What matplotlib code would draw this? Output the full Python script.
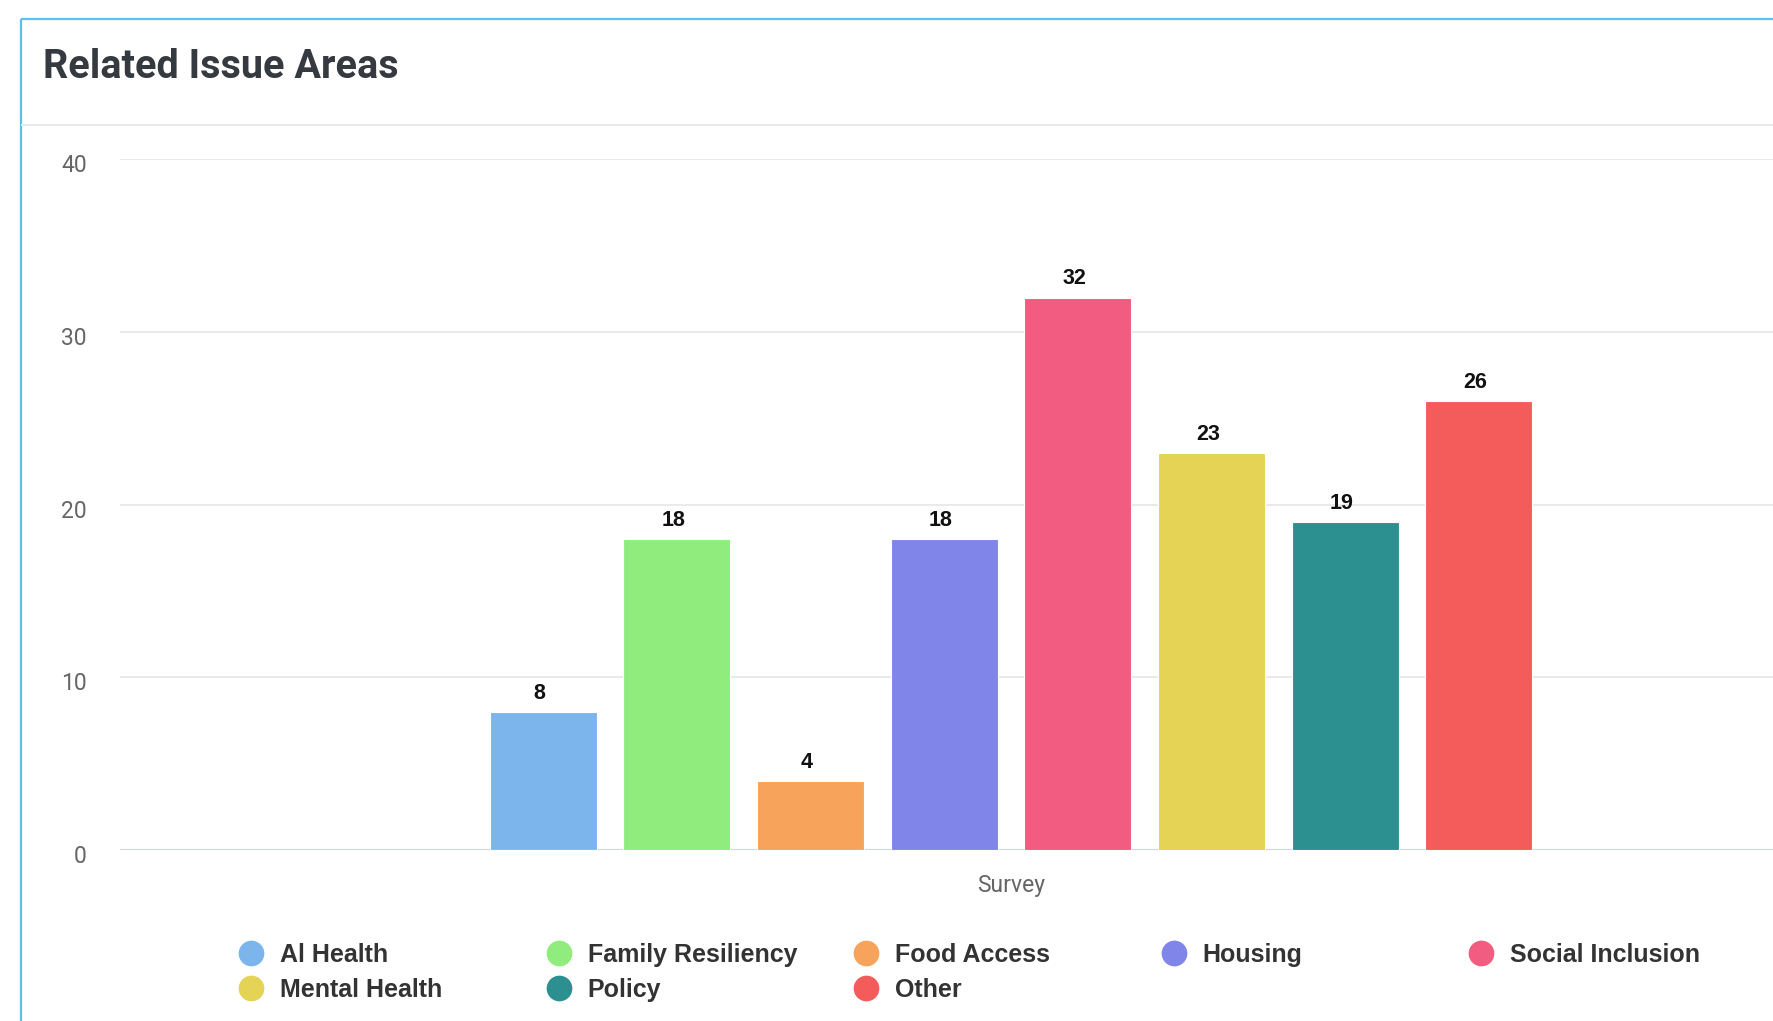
import numpy as np
import matplotlib
matplotlib.use('Agg')
import matplotlib.pyplot as plt
import matplotlib.transforms as mtransforms
from matplotlib.lines import Line2D

# Survey responses per related issue area (single category, one series each)
series_names = ['Al Health', 'Family Resiliency', 'Food Access', 'Housing',
                'Social Inclusion', 'Mental Health', 'Policy', 'Other']
series_values = [8, 18, 4, 18, 32, 23, 19, 26]
series_colors = ['#7cb5ec', '#90ed7d', '#f7a35c', '#8085e9',
                 '#f15c80', '#e4d354', '#2b908f', '#f45b5b']
category = 'Survey'
y_ticks = [0, 10, 20, 30, 40]

W, H = 1773, 1021
fig = plt.figure(figsize=(W / 100, H / 100), dpi=100)
fig.patch.set_facecolor('white')

# pixel-space overlay for the card frame, title and legend
ov = fig.add_axes([0, 0, 1, 1], zorder=0)
ov.set_xlim(0, W)
ov.set_ylim(H, 0)
ov.axis('off')
ov.plot([21, 21], [19, H + 5], color='#5bc0eb', lw=1.6, solid_capstyle='butt')
ov.plot([21, W + 5], [19, 19], color='#5bc0eb', lw=1.6, solid_capstyle='butt')
ov.plot([22, W + 5], [125, 125], color='#e8e8ea', lw=1.4)
ov.text(43, 78, 'Related Issue Areas', fontsize=28.5, fontweight='bold',
        family='Roboto', color='#353a40', va='baseline', ha='left')

# plot area: 0 at y=850px, 40 at y=159px, left edge at 120px
left, right = 120, 1902
top, bottom = 159.4, 850
ax = fig.add_axes([left / W, (H - bottom) / H, (right - left) / W, (bottom - top) / H],
                  zorder=1)
ax.set_facecolor('none')

n = len(series_values)
group_pad, point_pad = 0.2, 0.1
slot = (1 - 2 * group_pad) / n
xs = [-0.5 + group_pad + slot * (i + 0.5) for i in range(n)]
bars = ax.bar(xs, series_values, width=slot * (1 - 2 * point_pad),
              color=series_colors, edgecolor='white', linewidth=0.8, zorder=3)

for x, v in zip(xs, series_values):
    ax.annotate(str(v), (x, v), xytext=(-2.5, 9.5), textcoords='offset points',
                ha='center', va='baseline', fontsize=15.5, fontweight='bold',
                family='Liberation Sans', color='#111111', zorder=4)

ax.set_xlim(-0.5, 0.5)
ax.set_ylim(0, 40)
ax.set_yticks(y_ticks)
ax.set_yticklabels([str(t) for t in y_ticks], family='Roboto', fontsize=16.5, color='#666666')
ax.set_xticks([0])
ax.set_xticklabels([category], family='Roboto', fontsize=16.5, color='#666666')
ax.tick_params(axis='y', length=0, pad=24)
ax.tick_params(axis='x', length=0, pad=17)
# y labels sit a few pixels below their gridlines
shift = mtransforms.ScaledTranslation(0, -4 / 100, fig.dpi_scale_trans)
for lbl in ax.get_yticklabels():
    lbl.set_transform(lbl.get_transform() + shift)
ax.grid(axis='y', color='#e6e6e6', linewidth=1.2, zorder=0)
ax.axhline(0, color='#ccd6eb', linewidth=1.5, zorder=2)
for sp in ax.spines.values():
    sp.set_visible(False)

# legend laid out in fixed-width columns, wrapping after five items
col_x0, col_w = 251, 307.5
row_y = [953, 988]
for i, (name, col) in enumerate(zip(series_names, series_colors)):
    cx = col_x0 + col_w * (i % 5)
    cy = row_y[i // 5]
    ov.add_line(Line2D([cx], [cy], marker='o', markersize=18.5, color=col,
                       markeredgewidth=0, linestyle='none'))
    ov.text(cx + 29, cy + 1.5, name, fontsize=18, fontweight='bold',
            family='Liberation Sans', color='#333333', va='center', ha='left')

fig.savefig('out.png', dpi=100)
